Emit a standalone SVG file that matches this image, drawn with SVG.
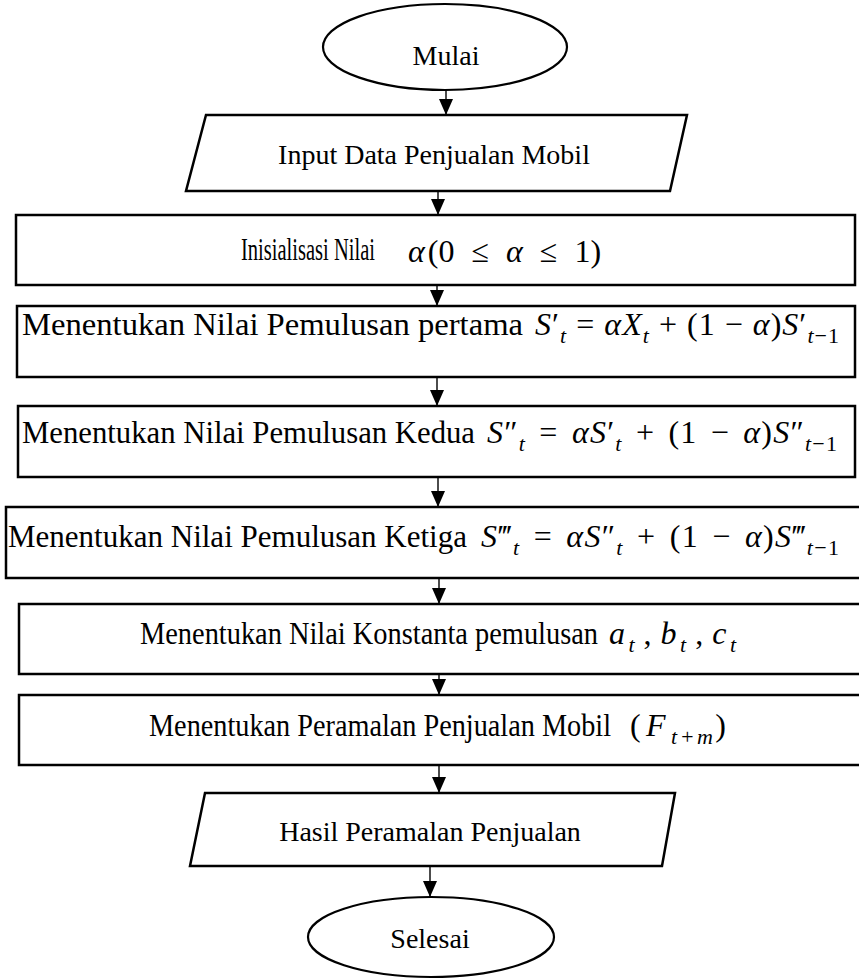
<svg xmlns="http://www.w3.org/2000/svg" width="859" height="980" viewBox="0 0 859 980">
<defs>
<style>
.shape{fill:#fff;stroke:#000;stroke-width:2.5}
.term{fill:#fff;stroke:#000;stroke-width:2.2}
.lbl{font-family:"Liberation Serif","Times New Roman",serif;font-size:31px;fill:#000}
.io{font-family:"Liberation Serif","Times New Roman",serif;font-size:28px;fill:#000;text-anchor:middle}
.m{font-family:"Liberation Serif","Times New Roman",serif;font-size:32px;fill:#000}
.i{font-style:italic}
.s{font-size:22px;font-style:italic}
.conn{stroke:#000;stroke-width:1.4;fill:none;marker-end:url(#ah)}
</style>
<marker id="ah" markerWidth="16" markerHeight="14" refX="16" refY="7" orient="auto" markerUnits="userSpaceOnUse" viewBox="0 0 16 14">
<path d="M0,0 L16,7 L0,14 Z" fill="#000"/>
</marker>
</defs>
<g id="connectors">
<line class="conn" x1="446" y1="90" x2="446" y2="115"/>
<line class="conn" x1="438" y1="191" x2="438" y2="215"/>
<line class="conn" x1="437" y1="285" x2="437" y2="306"/>
<line class="conn" x1="437" y1="377" x2="437" y2="406"/>
<line class="conn" x1="438" y1="477" x2="438" y2="507"/>
<line class="conn" x1="439" y1="578" x2="439" y2="604"/>
<line class="conn" x1="439" y1="674" x2="439" y2="695"/>
<line class="conn" x1="439" y1="765" x2="439" y2="793"/>
<line class="conn" x1="430" y1="866" x2="430" y2="897"/>
</g>
<g id="mulai">
<ellipse class="term" cx="445" cy="47" rx="122" ry="43"/>
<text class="io" x="446" y="65">Mulai</text>
</g>
<g id="input">
<polygon class="shape" points="206,115 687,115 670,191 186,191"/>
<text class="io" x="434" y="164">Input Data Penjualan Mobil</text>
</g>
<g id="inisialisasi">
<rect class="shape" x="16" y="215" width="839" height="70"/>
<text class="lbl" x="241" y="260" textLength="134" lengthAdjust="spacingAndGlyphs">Inisialisasi Nilai</text>
<text class="m" x="408" y="262" font-size="38"><tspan class="i">α</tspan><tspan dx="3">(0 </tspan><tspan dx="9">≤ </tspan><tspan class="i" dx="9">α</tspan><tspan dx="9"> ≤ </tspan><tspan dx="9">1)</tspan></text>
</g>
<g id="pertama">
<rect class="shape" x="17" y="306" width="838" height="71"/>
<text class="lbl" x="22" y="335" textLength="501" lengthAdjust="spacingAndGlyphs">Menentukan Nilai Pemulusan pertama</text>
<text class="m" x="535" y="335" textLength="304" lengthAdjust="spacing"><tspan class="i">S</tspan>′<tspan class="s" dy="8">t</tspan><tspan dy="-8"> = </tspan><tspan class="i">αX</tspan><tspan class="s" dy="8">t</tspan><tspan dy="-8"> + (1 − </tspan><tspan class="i">α</tspan>)<tspan class="i">S</tspan>′<tspan class="s" dy="8">t</tspan><tspan font-size="22px">−1</tspan></text>
</g>
<g id="kedua">
<rect class="shape" x="18" y="406" width="837" height="71"/>
<text class="lbl" x="22" y="443" textLength="453" lengthAdjust="spacingAndGlyphs">Menentukan Nilai Pemulusan Kedua</text>
<text class="m" x="487" y="443" font-size="33" textLength="350" lengthAdjust="spacing"><tspan class="i">S</tspan>″<tspan class="s" dy="8">t</tspan><tspan dy="-8" dx="4"> = </tspan><tspan dx="4" class="i">αS</tspan>′<tspan class="s" dy="8">t</tspan><tspan dy="-8" dx="4"> + </tspan><tspan dx="4">(1 </tspan><tspan dx="4">− </tspan><tspan dx="4" class="i">α</tspan>)<tspan class="i">S</tspan>″<tspan class="s" dy="8">t</tspan><tspan font-size="22px">−1</tspan></text>
</g>
<g id="ketiga">
<rect class="shape" x="6" y="507" width="870" height="71"/>
<text class="lbl" x="8" y="547" textLength="459" lengthAdjust="spacingAndGlyphs">Menentukan Nilai Pemulusan Ketiga</text>
<text class="m" x="481" y="547" font-size="33" textLength="358" lengthAdjust="spacing"><tspan class="i">S</tspan>‴<tspan class="s" dy="8">t</tspan><tspan dy="-8" dx="4"> = </tspan><tspan dx="4" class="i">αS</tspan>″<tspan class="s" dy="8">t</tspan><tspan dy="-8" dx="4"> + </tspan><tspan dx="4">(1 </tspan><tspan dx="4">− </tspan><tspan dx="4" class="i">α</tspan>)<tspan class="i">S</tspan>‴<tspan class="s" dy="8">t</tspan><tspan font-size="22px">−1</tspan></text>
</g>
<g id="konstanta">
<rect class="shape" x="19" y="604" width="860" height="70"/>
<text class="lbl" x="140" y="644" textLength="458" lengthAdjust="spacingAndGlyphs">Menentukan Nilai Konstanta pemulusan</text>
<text class="m" x="609" y="644" font-size="33" textLength="127" lengthAdjust="spacing"><tspan class="i">a</tspan><tspan class="s" dy="8" dx="3">t</tspan><tspan dy="-8"> , </tspan><tspan class="i">b</tspan><tspan class="s" dy="8" dx="3">t</tspan><tspan dy="-8"> , </tspan><tspan class="i">c</tspan><tspan class="s" dy="8" dx="3">t</tspan></text>
</g>
<g id="peramalan">
<rect class="shape" x="19" y="695" width="860" height="70"/>
<text class="lbl" x="149" y="736" textLength="462" lengthAdjust="spacingAndGlyphs">Menentukan Peramalan Penjualan Mobil</text>
<text class="m" x="630" y="736" font-size="34" textLength="96" lengthAdjust="spacing">(<tspan class="i" dx="3">F</tspan><tspan class="s" dy="8" dx="3">t+m</tspan><tspan dy="-8">)</tspan></text>
</g>
<g id="hasil">
<polygon class="shape" points="205,793 675,793 662,866 190,866"/>
<text class="io" x="430" y="841" font-size="30">Hasil Peramalan Penjualan</text>
</g>
<g id="selesai">
<ellipse class="term" cx="431" cy="937" rx="123" ry="40"/>
<text class="io" x="430" y="948">Selesai</text>
</g>
</svg>
